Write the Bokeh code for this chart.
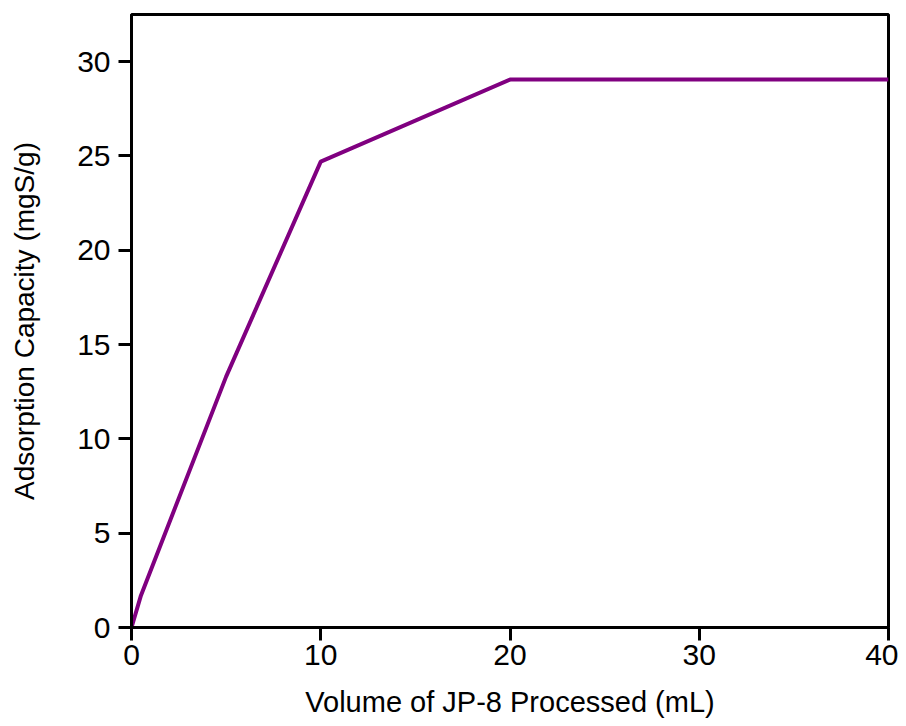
from bokeh.plotting import figure
from bokeh.models import Range1d, FixedTicker
from bokeh.embed import file_html
from bokeh.resources import INLINE

volume_ml = [0, 0.5, 5, 10, 20, 30, 40]
capacity_mgS_g = [0, 1.7, 13.3, 24.7, 29.05, 29.05, 29.05]
x_ticks = [0, 10, 20, 30, 40]
y_ticks = [0, 5, 10, 15, 20, 25, 30]

p = figure(width=898, height=726, output_backend="svg", toolbar_location=None,
           x_range=Range1d(0, 40), y_range=Range1d(0, 32.5),
           min_border_left=131, min_border_right=10, min_border_top=14, min_border_bottom=99)
p.line(volume_ml, capacity_mgS_g, line_color="#800080", line_width=4)

p.grid.visible = False
p.outline_line_color = "black"
p.outline_line_width = 3
p.background_fill_color = "white"
p.border_fill_color = "white"

for ax in (p.xaxis[0], p.yaxis[0]):
    ax.axis_line_width = 3
    ax.axis_line_color = "black"
    ax.major_tick_line_width = 3
    ax.major_tick_line_color = "black"
    ax.major_tick_in = 0
    ax.major_tick_out = 13
    ax.minor_tick_line_color = None
    ax.major_label_text_font = "Liberation Sans"
    ax.major_label_text_font_size = "30px"
    ax.major_label_text_color = "black"
    ax.axis_label_text_font = "Liberation Sans"
    ax.axis_label_text_font_style = "normal"
    ax.axis_label_text_color = "black"

p.xaxis[0].axis_label_text_font_size = "29px"
p.yaxis[0].axis_label_text_font_size = "28px"
p.xaxis[0].ticker = FixedTicker(ticks=x_ticks)
p.yaxis[0].ticker = FixedTicker(ticks=y_ticks)
p.xaxis[0].axis_label = "Volume of JP-8 Processed (mL)"
p.yaxis[0].axis_label = "Adsorption Capacity (mgS/g)"
p.xaxis[0].axis_label_standoff = 18
p.yaxis[0].axis_label_standoff = 34
p.xaxis[0].major_label_standoff = 4
p.yaxis[0].major_label_standoff = 8

open("out.html", "w").write(file_html(p, INLINE))
